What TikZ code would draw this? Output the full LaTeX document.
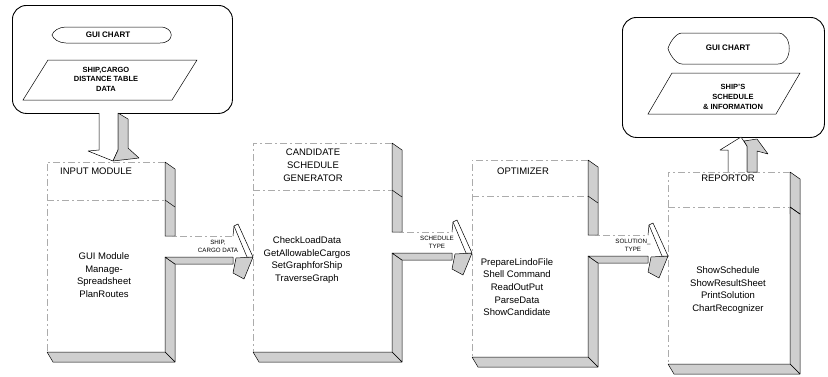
\documentclass[tikz,border=0pt]{standalone}
\usepackage{fontspec}
\setmainfont{Liberation Sans}
\usetikzlibrary{calc}
% #1 name #2 xl #3 yt #4 xr #5 yb #6 ydiv #7 shaft top #8 shaft bottom
\newcommand{\drawmod}[8]{%
  \path (#2,#3) coordinate (#1-nw) (#4,#5) coordinate (#1-se);
  \filldraw[shade3d] (#4,#3) -- (#4+10,#3+7) -- (#4+10,#7) -- (#4,#7) -- cycle;
  \filldraw[shade3d] (#4,#8) -- (#4+10,#8+7) -- (#4+10,#5+10) -- (#4,#5) -- cycle;
  \filldraw[shade3d] (#2,#5) -- (#4,#5) -- (#4+10,#5+10) -- (#2+6,#5+10) -- cycle;
  \draw[thinline] (#4,#6) -- (#4+10,#6+7);
  \draw[faint] (#4,#3) -- (#2,#3) -- (#2,#5);
  \draw[faint] (#2,#6) -- (#4,#6);
}
% #1 name #2 xr #3 x1 #4 xt #5 st #6 sb #7 label
\newcommand{\flowarrow}[7]{%
  \draw[faint] (#2,#5) -- (#3,#5);
  \draw[thinline] (#3,#5) -- (#3+1,#5-10);
  \filldraw[shade3d] (#2,#6) -- (#3,#6) -- (#3,#6+7) -- (#2+10,#6+7) -- cycle;
  \filldraw[shade3d] (#3+3,#6+1) -- (#4,#6) -- (#3+11,#6+22) -- (#3,#6+16) -- cycle;
  \filldraw[whiteface] (#3+1,#5-10) -- (#3+5,#5-12) -- (#4,#6) -- (#4-6,#6) -- cycle;
  \node[arrlabel] (#1) at (#3-15,{(#5+#6)/2}) {#7};
}
% x0 y0 x1 y1
\newcommand{\guishape}[4]{%
  \draw[thinline] (#1+14,#2) -- (#3-12,#2)
    .. controls (#3+3,#2) and (#3+3,#4) .. (#3-12,#4)
    -- (#1+14,#4)
    .. controls (#1+7,#4) and (#1+1,{(#2+#4)/2+4}) .. (#1,{(#2+#4)/2})
    .. controls (#1+1,{(#2+#4)/2-4}) and (#1+7,#2) .. (#1+14,#2) -- cycle;
}
\begin{document}
\begin{tikzpicture}[x=1pt,y=-1pt,
  shade3d/.style={fill=gray!38, draw=black, line width=0.5pt, line join=round},
  whiteface/.style={fill=white, draw=black, line width=0.5pt, line join=round},
  faint/.style={draw=gray!65, line width=0.5pt, dash pattern=on 7pt off 3pt on 2pt off 3pt},
  bigbox/.style={draw=black, line width=0.9pt, rounded corners=14pt, inner sep=0},
  thinline/.style={draw=black, line width=0.5pt},
  title/.style={font=\fontsize{9.5}{13}\selectfont, align=center, inner sep=0},
  body/.style={font=\fontsize{9.5}{12.7}\selectfont, align=center, inner sep=0},
  guitext/.style={font=\fontsize{8}{10}\selectfont\bfseries, align=center, inner sep=0},
  toptext/.style={font=\fontsize{7.5}{9.6}\selectfont\bfseries, align=center, inner sep=0},
  arrlabel/.style={font=\fontsize{6.2}{8.5}\selectfont, align=center, inner sep=0},
]
\useasboundingbox (0,0) rectangle (828,376);

% ---- source box (top left)
\node[bigbox, minimum width=220pt, minimum height=108pt, anchor=north west] (src) at (12,5) {};
\guishape{52}{27}{172}{43}
\node[guitext] (g1) at (108,35) {GUI CHART};
\draw[thinline] (48,60) -- (197,60) -- (172,100) -- (23,100) -- cycle;
\node[toptext] (d1) at (106,79) {SHIP,CARGO\\DISTANCE TABLE\\DATA};

% ---- destination box (top right)
\node[bigbox, minimum width=202pt, minimum height=120pt, anchor=north west] (dst) at (622,17) {};
\guishape{668}{33}{790}{64}
\node[guitext] (g2) at (728,48) {GUI CHART};
\draw[thinline] (672,73) -- (800,73) -- (776,114) -- (648,114) -- cycle;
\node[toptext] (d2) at (733,97) {SHIP'S\\SCHEDULE\\\& INFORMATION};

% ---- modules
\drawmod{inp}{47}{162}{165}{352}{200}{236}{257}
\drawmod{csg}{253}{143}{392}{352}{190}{232}{253}
\drawmod{opt}{472}{160}{588}{357}{196}{235}{256}
\drawmod{rep}{668}{172}{790}{364}{207}{214}{207}

% ---- flow arrows
\flowarrow{a1}{165}{233}{253}{236}{257}{SHIP,\\CARGO DATA}
\flowarrow{a2}{392}{452}{472}{232}{253}{SCHEDULE\\TYPE}
\flowarrow{a3}{588}{648}{668}{235}{256}{SOLUTION\_\\TYPE}

% ---- down arrow (source -> input module)
\filldraw[whiteface] (99,113) -- (99,150) -- (88,151) -- (113,161) -- (118,150) -- (118,113);
\filldraw[shade3d] (118,113) -- (128,119) -- (128,148) -- (139,158) -- (113,161) -- (118,150) -- cycle;

% ---- up arrow (reportor -> destination)
\filldraw[whiteface] (728,172) -- (728,150) -- (720,150) -- (741,137) -- (747,146) -- (747,172);
\filldraw[shade3d] (747,172) -- (747,146) -- (744,141) -- (757,139) -- (768,154) -- (757,151) -- (757,172) -- cycle;

% ---- module texts
\node[title, anchor=west] (inpt) at (60,171) {INPUT MODULE};
\node[body] (inpb) at (104,275) {GUI Module\\Manage-\\Spreadsheet\\PlanRoutes};
\node[title] (csgt) at (313,165) {CANDIDATE\\SCHEDULE\\GENERATOR};
\node[body] (csgb) at (307,260) {CheckLoadData\\GetAllowableCargos\\SetGraphforShip\\TraverseGraph};
\node[title] (optt) at (523,171) {OPTIMIZER};
\node[body] (optb) at (517,287) {PrepareLindoFile\\Shell Command\\ReadOutPut\\ParseData\\ShowCandidate};
\node[title] (rept) at (728,178) {REPORTOR};
\node[body] (repb) at (728,290) {ShowSchedule\\ShowResultSheet\\PrintSolution\\ChartRecognizer};
\end{tikzpicture}
\end{document}
